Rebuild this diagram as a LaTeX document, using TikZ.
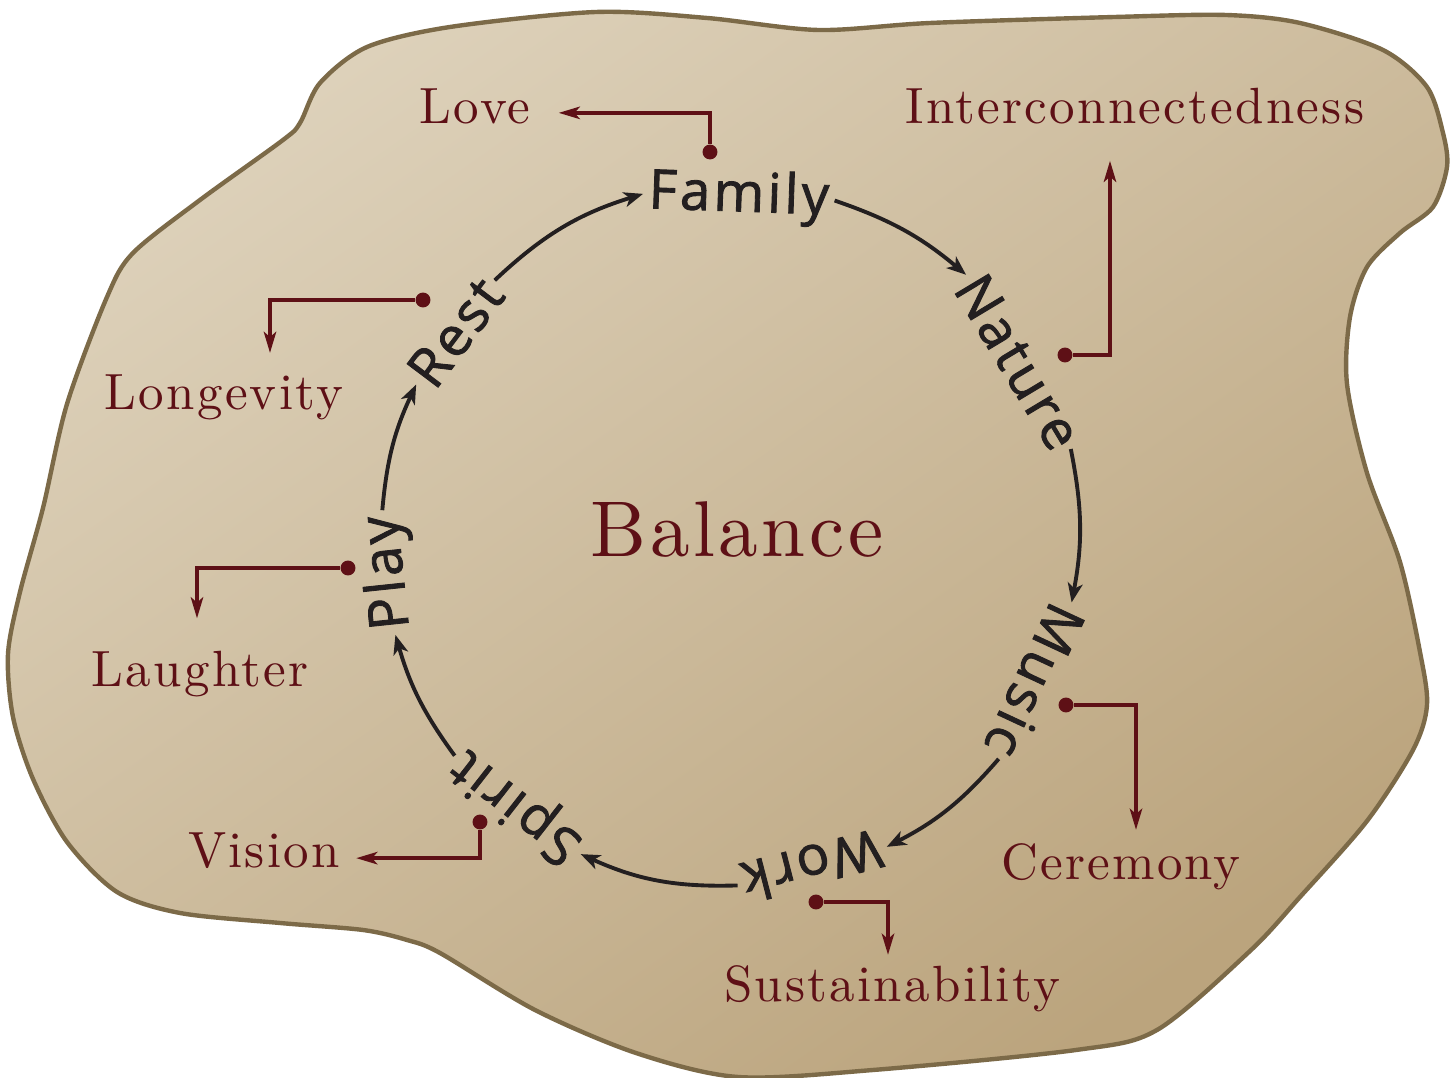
\documentclass[tikz,border=0pt]{standalone}
\usepackage{fontspec}
\usetikzlibrary{arrows.meta,calc}
\newfontfamily\wordfont{Open Sans}[LetterSpace=6, FakeBold=1.6]
\newfontfamily\tagfont{lmroman10-regular.otf}[LetterSpace=4.5]
\definecolor{ink}{HTML}{231F20}
\definecolor{wine}{HTML}{5E1016}
\definecolor{rim}{HTML}{7C6A48}
\definecolor{parchlight}{HTML}{DDD1BA}
\definecolor{parchdark}{HTML}{BBA47D}
\begin{document}
\begin{tikzpicture}[x=0.02cm, y=0.02cm,
% common options for the words on the ring:
word/.style = {font=\wordfont\fontsize{31}{33}\selectfont, text=ink, inner sep=3pt},
% common options for the red labels:
tag/.style = {font=\tagfont\fontsize{29}{31}\selectfont, text=wine, anchor=base},
% arrows round the ring and links to the labels:
flow/.style = {draw=ink, line width=2.2pt, -{Stealth[length=11pt, width=8.5pt, inset=3pt]}},
link/.style = {draw=wine, line width=2.2pt, -{Stealth[length=12pt, width=7pt, inset=3pt]}},
dot/.style = {circle, fill=wine, inner sep=0, minimum size=8.5pt}]
\path[fill=white] (0,0) rectangle (1455,1078);
\useasboundingbox (0,0) rectangle (1455,1078);
% parchment
\path[draw=rim, line width=2.5pt, top color=parchlight, bottom color=parchdark,
      shading angle=35]
  plot[smooth cycle] coordinates {(107,781) (133,825) (200,878) (283,938) (300,955)
  (320,995) (367,1031) (450,1051) (596,1066) (707,1060) (818,1048) (930,1055)
  (1115,1061) (1226,1063) (1300,1055) (1383,1028) (1427,991) (1443,945) (1447,911)
  (1433,871) (1400,845) (1367,811) (1350,761) (1347,694) (1367,605) (1400,516)
  (1420,426) (1427,373) (1413,328) (1367,257) (1300,181) (1250,127) (1157,48)
  (1076,28) (873,8) (738,1) (636,25) (535,68) (440,125) (407,138) (363,148)
  (280,155) (180,165) (117,186) (67,236) (33,299) (13,361) (8,424) (20,486)
  (43,570) (67,674)};
\coordinate (ctr) at (727,541);
% the ring
\node[word, rotate=-2] (family) at ($(ctr)+(88:340)$) {Family};
\node[word, rotate=-59] (nature) at ($(ctr)+(31:340)$) {Nature};
\node[word, rotate=-115] (music) at ($(ctr)+(-25:340)$) {Music};
\node[word, rotate=-165.5] (work) at ($(ctr)+(-75.5:340)$) {Work};
\node[word, rotate=142] (spirit) at ($(ctr)+(-128:340)$) {Spirit};
\node[word, rotate=96] (play) at ($(ctr)+(-174:340)$) {Play};
\node[word, rotate=53] (rest) at ($(ctr)+(143:340)$) {Rest};
\draw[flow] (family.east) to[bend left=10.5] (nature.west);
\draw[flow] (nature.east) to[bend left=11] (music.west);
\draw[flow] (music.east) to[bend left=11] (work.west);
\draw[flow] (work.east) to[bend left=13] (spirit.west);
\draw[flow] (spirit.east) to[bend left=10] (play.west);
\draw[flow] (play.east) to[bend left=10] (rest.west);
\draw[flow] (rest.east) to[bend left=13] (family.west);
\node[font=\tagfont\fontsize{45}{48}\selectfont, text=wine, anchor=base] (balance) at (737,521) {Balance};
% labels
\node[tag] (love) at (475,954) {Love};
\node[tag] (inter) at (1135,954) {Interconnectedness};
\node[tag] (longevity) at (224,668) {Longevity};
\node[tag] (laughter) at (200,391) {Laughter};
\node[tag] (vision) at (264,210) {Vision};
\node[tag] (ceremony) at (1121,198) {Ceremony};
\node[tag] (sustain) at (892,76) {Sustainability};
\node[dot] (dLove) at (710,926) {};
\node[dot] (dInter) at (1065,723) {};
\node[dot] (dLong) at (423,778) {};
\node[dot] (dLaugh) at (348,510) {};
\node[dot] (dVision) at (480,256) {};
\node[dot] (dCere) at (1066,373) {};
\node[dot] (dSust) at (816,176) {};
\draw[link] (dLove) |- ($(love.east)+(22,-6)$);
\draw[link] (dInter) -| ($(inter.south)+(-25,-30)$);
\draw[link] (dLong) -| ($(longevity.north)+(46,16)$);
\draw[link] (dLaugh) -| ($(laughter.north)+(-3,27)$);
\draw[link] (dVision) |- ($(vision.east)+(10,-7)$);
\draw[link] (dCere) -| ($(ceremony.north)+(15,8)$);
\draw[link] (dSust) -| ($(sustain.north)+(-4,5)$);
\end{tikzpicture}
\end{document}
